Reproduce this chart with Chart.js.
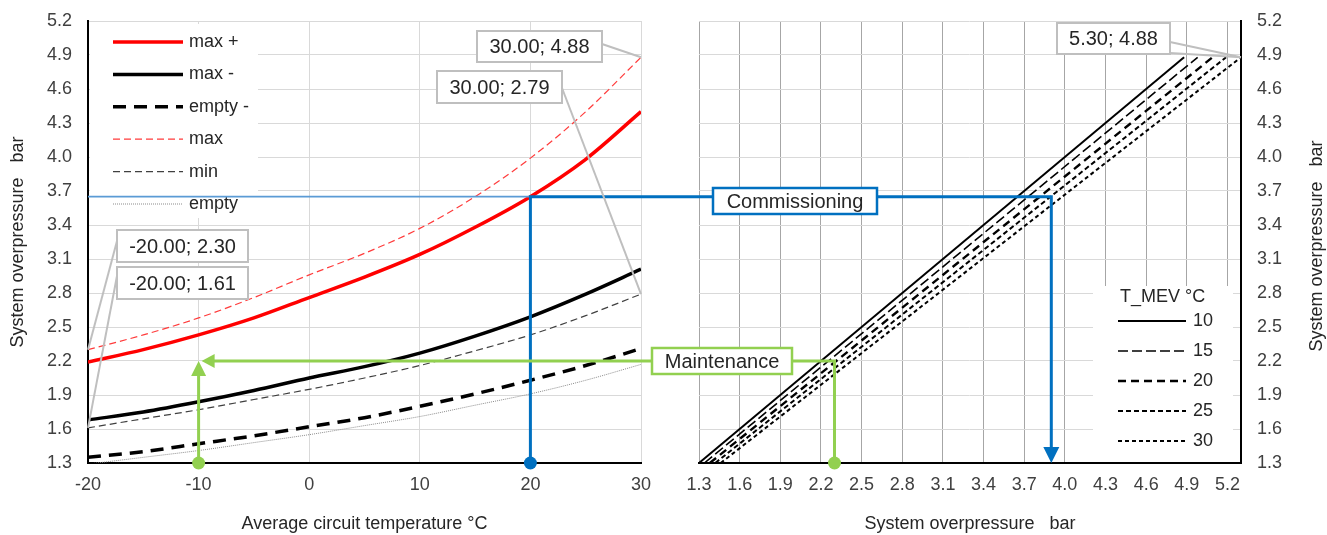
<!DOCTYPE html>
<html><head><meta charset="utf-8">
<script src="https://cdn.jsdelivr.net/npm/chart.js@4.4.1/dist/chart.umd.min.js"></script>
<style>
html,body{margin:0;padding:0;background:#fff;}
body{width:1327px;height:535px;overflow:hidden;position:relative;}
canvas{position:absolute;top:0;}
</style></head><body>
<canvas id="c1" width="660" height="535" style="left:0;width:660px;height:535px"></canvas>
<canvas id="c2" width="667" height="535" style="left:660px;width:667px;height:535px"></canvas>
<canvas id="ov" width="1327" height="535" style="left:0;width:1327px;height:535px;pointer-events:none"></canvas>
<script>
// ---------- data ----------
const tempC      = [-20, -15, -10, -5, 0, 5, 10, 15, 20, 25, 30];
const maxPlus    = [2.19, 2.30, 2.43, 2.58, 2.76, 2.94, 3.14, 3.38, 3.65, 3.98, 4.40];
const maxMinus   = [1.68, 1.75, 1.84, 1.94, 2.05, 2.15, 2.27, 2.42, 2.59, 2.79, 3.01];
const emptyMinus = [1.35, 1.40, 1.47, 1.54, 1.62, 1.70, 1.80, 1.91, 2.03, 2.16, 2.31];
const maxLine    = [2.30, 2.43, 2.58, 2.76, 2.96, 3.15, 3.37, 3.65, 3.99, 4.40, 4.88];
const minLine    = [1.61, 1.69, 1.77, 1.86, 1.95, 2.05, 2.16, 2.29, 2.43, 2.60, 2.79];
const emptyLine  = [1.29, 1.35, 1.41, 1.48, 1.55, 1.63, 1.71, 1.81, 1.91, 2.03, 2.17];

const mevLabels  = ['10', '15', '20', '25', '30'];
const mevStartX  = [1.30, 1.34, 1.38, 1.42, 1.46];
const mevStartY  = [1.30, 1.30, 1.30, 1.30, 1.30];
const mevEndX    = [4.88, 4.98, 5.09, 5.19, 5.30];
const mevEndY    = [4.88, 4.88, 4.88, 4.88, 4.88];

const pTicks     = [1.3, 1.6, 1.9, 2.2, 2.5, 2.8, 3.1, 3.4, 3.7, 4.0, 4.3, 4.6, 4.9, 5.2];
const tTicks     = [-20, -10, 0, 10, 20, 30];

// operating points (temperature, pressure, system pressure)
const commissioning = {label: 'Commissioning', t: 20, p: 3.65, sys: 3.9};
const maintenance   = {label: 'Maintenance', t: -10, p: 2.2, sys: 2.3};

// data labels (text, chart, x, y)
const calloutText  = ['-20.00; 2.30', '-20.00; 1.61', '30.00; 4.88', '30.00; 2.79', '5.30; 4.88'];
const calloutChart = ['L', 'L', 'L', 'L', 'R'];
const calloutX     = [-20, -20, 30, 30, 5.30];
const calloutY     = [2.30, 1.61, 4.88, 2.79, 4.88];

// ---------- styling ----------
const FONT = '"Liberation Sans", Arial, sans-serif';
Chart.defaults.font.family = FONT;
Chart.defaults.font.size = 18;
Chart.defaults.color = '#404040';

const TXT = '#262626';
const GRID_L = '#d9d9d9';
const GRID_V = '#a6a6a6';
const BLUE = '#0070C0';
const GREEN = '#92D050';

function pairs(xs, ys){ return xs.map((x,i)=>({x:x, y:ys[i]})); }

const legendL = {
  id: 'legendL',
  afterDraw(chart){
    const ctx = chart.ctx; ctx.save();
    ctx.fillStyle = '#fff'; ctx.fillRect(90, 24, 168, 194);
    chart.data.datasets.forEach((ds, i) => {
      const y = 42 + i * 32.4;
      ctx.beginPath();
      ctx.strokeStyle = ds.borderColor; ctx.lineWidth = ds.borderWidth;
      ctx.setLineDash(ds.borderDash || []);
      ctx.moveTo(113, y); ctx.lineTo(183, y); ctx.stroke();
      ctx.setLineDash([]);
      ctx.fillStyle = TXT; ctx.font = '18px ' + FONT; ctx.textBaseline = 'middle'; ctx.textAlign = 'left';
      ctx.fillText(ds.label, 189, y);
    });
    ctx.restore();
  }
};

const legendR = {
  id: 'legendR',
  afterDraw(chart){
    const ctx = chart.ctx; ctx.save();
    const ox = -660;
    ctx.fillStyle = '#fff'; ctx.fillRect(1093 + ox, 286, 140, 176);
    ctx.fillStyle = TXT; ctx.font = '18px ' + FONT; ctx.textBaseline = 'middle'; ctx.textAlign = 'left';
    ctx.fillText('T_MEV °C', 1120 + ox, 297);
    chart.data.datasets.forEach((ds, i) => {
      const y = 321 + i * 30;
      ctx.beginPath();
      ctx.strokeStyle = ds.borderColor; ctx.lineWidth = ds.borderWidth;
      ctx.setLineDash(ds.borderDash || []);
      ctx.moveTo(1118 + ox, y); ctx.lineTo(1186 + ox, y); ctx.stroke();
      ctx.setLineDash([]);
      ctx.fillStyle = TXT;
      ctx.fillText(ds.label, 1193 + ox, y);
    });
    // right axis title, reading bottom-to-top
    const a = chart.chartArea;
    ctx.translate(657, (a.top + a.bottom) / 2 + 4);
    ctx.rotate(-Math.PI / 2);
    ctx.textAlign = 'center'; ctx.textBaseline = 'middle';
    ctx.fillText('System overpressure   bar', 0, 0);
    ctx.restore();
  }
};

function yAxisCommon(position, width){
  return {
    type: 'linear', position: position, min: 1.3, max: 5.2,
    afterBuildTicks: s => { s.ticks = pTicks.map(v => ({value: v})); },
    afterFit: s => { s.width = width; s.paddingTop = 10; s.paddingBottom = 10; },
    ticks: { callback: v => Number(v).toFixed(1), padding: 16, autoSkip: false, color: '#404040' },
    grid: { color: GRID_L, lineWidth: 1, drawTicks: false },
    border: { color: '#000', width: 2 }
  };
}
function xFit(s){ s.height = 72; s.paddingLeft = 0; s.paddingRight = 0; }

const yL = yAxisCommon('left', 88);
yL.title = { display: true, text: 'System overpressure   bar', color: TXT, padding: {top: 7, bottom: 0} };

const c1 = new Chart(document.getElementById('c1'), {
  type: 'line',
  data: {
    labels: tempC,
    datasets: [
      {label: 'max +',   data: pairs(tempC, maxPlus),    borderColor: '#FF0000', borderWidth: 3.5, borderDash: []},
      {label: 'max -',   data: pairs(tempC, maxMinus),   borderColor: '#000000', borderWidth: 3.5, borderDash: []},
      {label: 'empty -', data: pairs(tempC, emptyMinus), borderColor: '#000000', borderWidth: 3.5, borderDash: [13, 8]},
      {label: 'max',     data: pairs(tempC, maxLine),    borderColor: '#FF3B3B', borderWidth: 1.2, borderDash: [7, 4]},
      {label: 'min',     data: pairs(tempC, minLine),    borderColor: '#404040', borderWidth: 1.2, borderDash: [7, 4]},
      {label: 'empty',   data: pairs(tempC, emptyLine),  borderColor: '#8c8c8c', borderWidth: 1, borderDash: [1, 1]}
    ].map(d => Object.assign(d, {pointRadius: 0, tension: 0.4, cubicInterpolationMode: 'monotone', fill: false}))
  },
  options: {
    responsive: false, animation: false, devicePixelRatio: 1,
    layout: { padding: {left: 0, top: 21, right: 19, bottom: 0} },
    plugins: { legend: {display: false}, tooltip: {enabled: false} },
    scales: {
      x: {
        type: 'linear', min: -20, max: 30,
        afterBuildTicks: s => { s.ticks = tTicks.map(v => ({value: v})); },
        afterFit: xFit,
        ticks: { padding: 11, color: '#404040', autoSkip: false, maxRotation: 0 },
        grid: { color: GRID_L, lineWidth: 1, drawTicks: false },
        border: { color: '#000', width: 2 },
        title: { display: true, text: 'Average circuit temperature °C', color: TXT, padding: {top: 0, bottom: 0} }
      },
      y: yL
    }
  },
  plugins: [legendL]
});

const yR = yAxisCommon('right', 86);

const mevStyles = [
  {borderWidth: 2,   borderDash: []},
  {borderWidth: 1.6, borderDash: [10, 4]},
  {borderWidth: 2.4, borderDash: [8, 5]},
  {borderWidth: 2,   borderDash: [5, 3]},
  {borderWidth: 2,   borderDash: [4, 3]}
];

const c2 = new Chart(document.getElementById('c2'), {
  type: 'line',
  data: {
    datasets: mevLabels.map((lab, i) => Object.assign({
      label: lab,
      data: [{x: mevStartX[i], y: mevStartY[i]}, {x: mevEndX[i], y: mevEndY[i]}],
      borderColor: '#000', pointRadius: 0, fill: false
    }, mevStyles[i]))
  },
  options: {
    responsive: false, animation: false, devicePixelRatio: 1,
    layout: { padding: {left: 39, top: 21, right: 0, bottom: 0} },
    plugins: { legend: {display: false}, tooltip: {enabled: false} },
    scales: {
      x: {
        type: 'linear', min: 1.3, max: 5.3,
        afterBuildTicks: s => { s.ticks = pTicks.map(v => ({value: v})); },
        afterFit: xFit,
        ticks: { callback: v => Number(v).toFixed(1), padding: 11, color: '#404040', autoSkip: false, maxRotation: 0 },
        grid: { color: GRID_V, lineWidth: 1, drawTicks: false },
        border: { color: '#000', width: 2 },
        title: { display: true, text: 'System overpressure   bar', color: TXT, padding: {top: 0, bottom: 0} }
      },
      y: yR
    }
  },
  plugins: [legendR]
});

// ---------- overlay annotations ----------
const OX2 = 660;
const px1 = v => c1.scales.x.getPixelForValue(v);
const py1 = v => c1.scales.y.getPixelForValue(v);
const px2 = v => OX2 + c2.scales.x.getPixelForValue(v);
const py2 = v => c2.scales.y.getPixelForValue(v);

const ov = document.getElementById('ov');
const ctx = ov.getContext('2d');

function line(pts, color, w){
  ctx.beginPath(); ctx.strokeStyle = color; ctx.lineWidth = w; ctx.setLineDash([]);
  ctx.lineJoin = 'miter'; ctx.lineCap = 'butt';
  pts.forEach((p, i) => i ? ctx.lineTo(p[0], p[1]) : ctx.moveTo(p[0], p[1]));
  ctx.stroke();
}
function tri(p1, p2, p3, color){
  ctx.beginPath(); ctx.fillStyle = color;
  ctx.moveTo(p1[0], p1[1]); ctx.lineTo(p2[0], p2[1]); ctx.lineTo(p3[0], p3[1]); ctx.closePath(); ctx.fill();
}
function dot(x, y, color){
  ctx.beginPath(); ctx.fillStyle = color; ctx.arc(x, y, 6.5, 0, Math.PI * 2); ctx.fill();
}
function box(x0, y0, x1, y1, border, w, text, size){
  ctx.fillStyle = '#fff'; ctx.fillRect(x0, y0, x1 - x0, y1 - y0);
  ctx.strokeStyle = border; ctx.lineWidth = w; ctx.setLineDash([]);
  ctx.strokeRect(x0, y0, x1 - x0, y1 - y0);
  ctx.fillStyle = TXT; ctx.font = size + 'px ' + FONT; ctx.textAlign = 'center'; ctx.textBaseline = 'middle';
  ctx.fillText(text, (x0 + x1) / 2, (y0 + y1) / 2 + 1);
}

// Commissioning (blue)
const cy = py1(commissioning.p);
line([[px1(-20), cy], [px1(commissioning.t), cy]], '#5B9BD5', 1.6);
const cxT = px1(commissioning.t), cxS = px2(commissioning.sys), cyB = py2(1.3);
line([[cxT, py1(1.3)], [cxT, cy], [cxS, cy], [cxS, cyB - 14]], BLUE, 3);
tri([cxS, cyB], [cxS - 8, cyB - 16], [cxS + 8, cyB - 16], BLUE);
dot(cxT, py1(1.3), BLUE);
box(713, 188, 877, 214, BLUE, 2.5, commissioning.label, 20);

// Maintenance (green)
const my = py1(maintenance.p);
const mxT = px1(maintenance.t), mxS = px2(maintenance.sys);
line([[mxT, py1(1.3)], [mxT, my + 12]], GREEN, 3);
tri([mxT, my], [mxT - 7.5, my + 15], [mxT + 7.5, my + 15], GREEN);
line([[mxS, py2(1.3)], [mxS, my], [mxT + 14, my]], GREEN, 3);
tri([mxT + 3, my], [mxT + 16, my - 7], [mxT + 16, my + 7], GREEN);
dot(mxT, py1(1.3), GREEN);
dot(mxS, py2(1.3), GREEN);
box(652, 348, 792, 374, GREEN, 2.5, maintenance.label, 20);

// Data label callouts (gray)
const cBoxes = [[117, 230, 248, 262], [117, 267, 248, 299], [477, 31, 602, 62], [437, 71, 562, 103], [1057, 23, 1170, 54]];
const cLeads = [[[117, 241]], [[117, 276]], [[602, 44]], [[562, 88]], [[1170, 42], [1170, 53]]];
calloutText.forEach((t, i) => {
  const ax = calloutChart[i] === 'L' ? px1(calloutX[i]) : px2(calloutX[i]);
  const ay = calloutChart[i] === 'L' ? py1(calloutY[i]) : py2(calloutY[i]);
  cLeads[i].forEach(p => line([p, [ax, ay]], '#BFBFBF', 2));
});
calloutText.forEach((t, i) => {
  const b = cBoxes[i];
  box(b[0], b[1], b[2], b[3], '#BFBFBF', 2, t, 20);
});
</script>
</body></html>
